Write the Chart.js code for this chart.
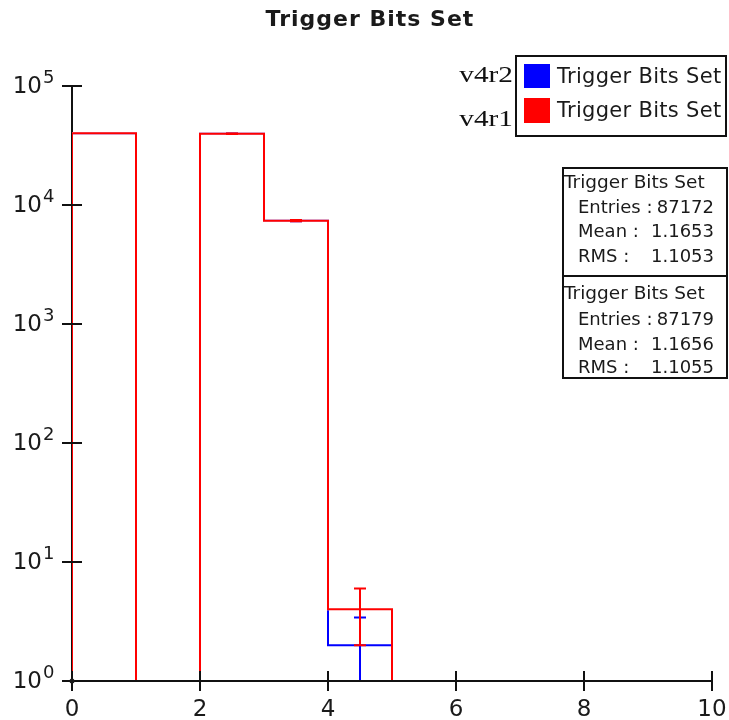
<!DOCTYPE html>
<html>
<head>
<meta charset="utf-8">
<script src="https://cdn.jsdelivr.net/npm/chart.js@4.4.1/dist/chart.umd.min.js"></script>
<style>
  body { margin: 0; background: #fff; }
  #wrap { position: relative; width: 729px; height: 720px; overflow: hidden; }
  .txt { position: absolute; font-family: 'DejaVu Sans', sans-serif; color: #1a1a1a; white-space: pre; }
  #title { left: 0; width: 740px; top: 8px; font-size: 22px; line-height: 22px; font-weight: bold; text-align: center; letter-spacing: 1px; }
  .ver { position: absolute; font-family: 'Liberation Serif', serif; font-size: 24px; line-height: 24px; color: #111;
         right: 216px; transform: scaleX(1.22); transform-origin: right center; }
  #legend { position: absolute; left: 515px; top: 55px; width: 212px; height: 82px; border: 2px solid #111; box-sizing: border-box; }
  .swatch { position: absolute; left: 524px; width: 26px; }
  .legtxt { left: 557px; font-size: 21px; line-height: 21px; letter-spacing: 0.3px; }
  #stats { position: absolute; left: 562px; top: 167px; width: 166px; height: 212px; border: 2px solid #111; box-sizing: border-box; }
  #divider { position: absolute; left: 562px; top: 275px; width: 166px; height: 2px; background: #111; }
  .st { font-size: 18px; line-height: 18px; }
  .st.head { font-size: 18.5px; }
</style>
</head>
<body>
<div id="wrap">
  <canvas id="hist"></canvas>
  <div id="title" class="txt">Trigger Bits Set</div>
  <div id="legend"></div>
  <div id="stats"></div>
  <div id="divider"></div>
</div>
<script>
// histogram contents, bins of width 1 from 0 to 10
const binEdges   = [0, 1, 2, 3, 4, 5, 6, 7, 8, 9, 10];
const v4r2Counts = [40072, 0, 39720, 7378, 2, 0, 0, 0, 0, 0];
const v4r2Errors = [0, 0, 199, 86, 1.41, 0, 0, 0, 0, 0];
const v4r1Counts = [40065, 0, 39730, 7380, 4, 0, 0, 0, 0, 0];
const v4r1Errors = [0, 0, 199, 86, 2, 0, 0, 0, 0, 0];

const xTicks = [0, 2, 4, 6, 8, 10];
const yTicks = [1, 10, 100, 1000, 10000, 100000];
const yExps  = ['0', '1', '2', '3', '4', '5'];

const versions    = ['v4r2', 'v4r1'];
const seriesName  = 'Trigger Bits Set';
const statEntries = ['87172', '87179'];
const statMean    = ['1.1653', '1.1656'];
const statRms     = ['1.1053', '1.1055'];

const Y_MIN = 1, Y_MAX = 100000;

function outline(counts) {
  const pts = [{ x: binEdges[0], y: Y_MIN }];
  counts.forEach((c, i) => {
    const h = Math.max(c, Y_MIN);
    pts.push({ x: binEdges[i], y: h }, { x: binEdges[i + 1], y: h });
  });
  pts.push({ x: binEdges[binEdges.length - 1], y: Y_MIN });
  return pts;
}

const histPlugin = {
  id: 'hist',
  beforeDatasetsDraw(chart) {
    const { ctx, chartArea: a } = chart;
    ctx.save();
    ctx.strokeStyle = '#111';
    ctx.lineWidth = 2;
    ctx.beginPath();
    ctx.moveTo(a.left, a.top);
    ctx.lineTo(a.left, a.bottom);
    ctx.stroke();
    ctx.restore();
  },
  afterDatasetDraw(chart, args) {
    const ds = chart.data.datasets[args.index];
    if (!ds.errors) return;
    const { ctx, chartArea: a, scales: { x, y } } = chart;
    ctx.save();
    ctx.beginPath();
    ctx.rect(a.left, a.top, a.right - a.left, a.bottom - a.top);
    ctx.clip();
    ctx.strokeStyle = ds.borderColor;
    ctx.lineWidth = 2;
    ds.counts.forEach((c, i) => {
      const e = ds.errors[i];
      if (!e) return;
      const cx = x.getPixelForValue((binEdges[i] + binEdges[i + 1]) / 2);
      const pHi = y.getPixelForValue(c + e);
      const lo = c - e;
      const pLo = y.getPixelForValue(Math.max(lo, Y_MIN));
      ctx.beginPath();
      ctx.moveTo(cx, pLo);
      ctx.lineTo(cx, pHi);
      ctx.moveTo(cx - 6, pHi);
      ctx.lineTo(cx + 6, pHi);
      if (lo >= Y_MIN) {
        ctx.moveTo(cx - 6, pLo);
        ctx.lineTo(cx + 6, pLo);
      }
      ctx.stroke();
    });
    ctx.restore();
  },
  afterDatasetsDraw(chart) {
    const { ctx, chartArea: a, scales: { x, y } } = chart;
    ctx.save();
    ctx.strokeStyle = '#111';
    ctx.fillStyle = '#1a1a1a';
    ctx.lineWidth = 2;
    ctx.beginPath();
    ctx.moveTo(a.left, a.bottom);
    ctx.lineTo(a.right, a.bottom);
    xTicks.forEach(v => {
      const px = x.getPixelForValue(v);
      ctx.moveTo(px, a.bottom - 10);
      ctx.lineTo(px, a.bottom + 10);
    });
    yTicks.forEach(v => {
      const py = y.getPixelForValue(v);
      ctx.moveTo(a.left - 10, py);
      ctx.lineTo(a.left + 10, py);
    });
    ctx.stroke();

    ctx.beginPath();
    ctx.arc(a.left, a.bottom, 2.5, 0, Math.PI * 2);
    ctx.fill();

    // 10^n labels
    yTicks.forEach((v, i) => {
      const py = y.getPixelForValue(v);
      ctx.font = '23px "DejaVu Sans"';
      ctx.textAlign = 'right';
      ctx.textBaseline = 'middle';
      ctx.fillText('10', 42, py + 1);
      ctx.font = '18px "DejaVu Sans"';
      ctx.textAlign = 'left';
      ctx.textBaseline = 'alphabetic';
      ctx.fillText(yExps[i], 43, py - 3);
    });
    ctx.restore();
  }
};

new Chart(document.getElementById('hist'), {
  type: 'line',
  data: {
    datasets: [
      { label: versions[1], data: outline(v4r1Counts), counts: v4r1Counts, errors: v4r1Errors,
        borderColor: '#ff0000', borderWidth: 2 },
      // white underlay so the blue outline does not tint the red one where they coincide
      { label: 'mask', data: outline(v4r1Counts), borderColor: '#ffffff', borderWidth: 2 },
      { label: versions[0], data: outline(v4r2Counts), counts: v4r2Counts, errors: v4r2Errors,
        borderColor: '#0000ff', borderWidth: 2 },
    ],
  },
  options: {
    responsive: true,
    maintainAspectRatio: false,
    animation: false,
    events: [],
    layout: { padding: { top: 86, right: 17, left: 0, bottom: 0 } },
    elements: { point: { radius: 0 }, line: { tension: 0, fill: false } },
    plugins: { legend: { display: false }, title: { display: false }, tooltip: { enabled: false } },
    scales: {
      x: {
        type: 'linear', min: 0, max: 10,
        grid: { display: false, drawTicks: false },
        border: { display: false },
        afterBuildTicks: s => { s.ticks = xTicks.map(v => ({ value: v })); },
        afterFit: s => { s.height = 39; s.paddingLeft = 0; s.paddingRight = 0; },
        ticks: { color: '#1a1a1a', font: { family: 'DejaVu Sans', size: 23 }, padding: 15, maxRotation: 0, autoSkip: false },
      },
      y: {
        type: 'logarithmic', min: Y_MIN, max: Y_MAX,
        grid: { display: false, drawTicks: false },
        border: { display: false },
        afterBuildTicks: s => { s.ticks = yTicks.map(v => ({ value: v })); },
        afterFit: s => { s.width = 72; s.paddingTop = 0; s.paddingBottom = 0; },
        ticks: { display: false },
      },
    },
  },
  plugins: [histPlugin],
});

// legend and stats boxes
const wrap = document.getElementById('wrap');
function addDiv(cls, text, css) {
  const d = document.createElement('div');
  d.className = cls;
  if (text) d.textContent = text;
  Object.assign(d.style, css);
  wrap.appendChild(d);
  return d;
}
const legColors = ['#0000ff', '#ff0000'];
const verTops = [62, 106];
const swTops = [64, 98], swHeights = [24, 25];
const legTops = [66, 100];
versions.forEach((v, i) => {
  addDiv('ver', v, { top: verTops[i] + 'px' });
  addDiv('swatch', '', { top: swTops[i] + 'px', height: swHeights[i] + 'px', background: legColors[i] });
  addDiv('txt legtxt', seriesName, { top: legTops[i] + 'px' });
});

const rowCenters = [[181, 206, 230.5, 255], [292.5, 318.5, 343, 366.5]];
versions.forEach((v, i) => {
  const r = rowCenters[i].map(c => (c - 8.5) + 'px');
  addDiv('txt st head', seriesName, { left: '564px', top: r[0] });
  [['Entries :', statEntries[i]], ['Mean :', statMean[i]], ['RMS :', statRms[i]]].forEach(([lab, val], k) => {
    addDiv('txt st', lab, { left: '578px', top: r[k + 1] });
    addDiv('txt st', val, { left: '600px', width: '114px', textAlign: 'right', top: r[k + 1] });
  });
});
</script>
</body>
</html>
